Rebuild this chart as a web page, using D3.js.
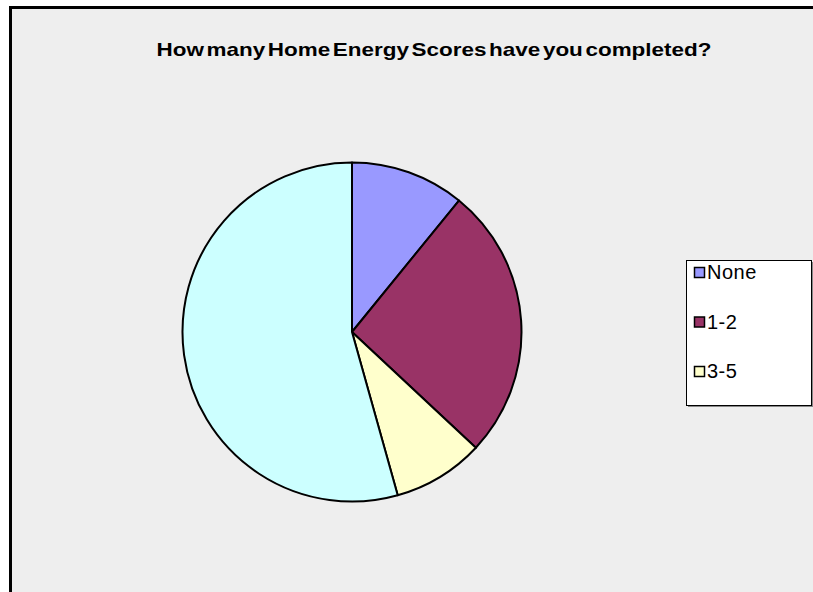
<!DOCTYPE html>
<html>
<head>
<meta charset="utf-8">
<script src="https://cdn.jsdelivr.net/npm/d3@7"></script>
<style>
  body { margin: 0; background: #fff; overflow: hidden; }
  svg { display: block; }
</style>
</head>
<body>
<svg width="813" height="592"></svg>
<script>
const svg = d3.select('svg');
const width = +svg.attr('width');
const height = +svg.attr('height');

// data (counts, total 46)
const categories = ['None', '1-2', '3-5', '6+'];
const counts = [5, 12, 4, 25];
const colours = ['#9999ff', '#993366', '#ffffcc', '#ccffff'];
const legendItems = ['None', '1-2', '3-5'];
const title = 'How many Home Energy Scores have you completed?';

// chart area, only top and left border are visible
svg.append('rect')
    .attr('x', 9).attr('y', 6)
    .attr('width', width).attr('height', height)
    .attr('fill', '#eeeeee');
svg.append('line')
    .attr('x1', 9).attr('x2', width)
    .attr('y1', 7.5).attr('y2', 7.5)
    .attr('stroke', '#000').attr('stroke-width', 3);
svg.append('line')
    .attr('x1', 10.5).attr('x2', 10.5)
    .attr('y1', 6).attr('y2', height)
    .attr('stroke', '#000').attr('stroke-width', 3);

svg.append('text')
    .attr('x', 434).attr('y', 56)
    .attr('text-anchor', 'middle')
    .attr('font-family', 'Liberation Sans, Arial, sans-serif')
    .attr('font-weight', 'bold')
    .attr('font-size', 18.5)
    .attr('word-spacing', -3)
    .attr('textLength', 555)
    .attr('lengthAdjust', 'spacingAndGlyphs')
    .text(title);

const cx = 352, cy = 332, radius = 169.5;

const pie = d3.pie().sort(null).value(d => d.v);
const arc = d3.arc().innerRadius(0).outerRadius(radius);
const rows = categories.map((c, i) => ({ c, v: counts[i], col: colours[i] }));

svg.append('g')
    .attr('transform', 'translate(' + cx + ',' + cy + ')')
  .selectAll('path')
  .data(pie(rows))
  .enter().append('path')
    .attr('d', arc)
    .attr('fill', d => d.data.col)
    .attr('stroke', '#000')
    .attr('stroke-width', 2)
    .attr('stroke-linejoin', 'round');

// legend (box runs to the right edge, last entry not shown)
const legend = svg.append('g').attr('transform', 'translate(686,260)');
legend.append('rect')
    .attr('x', 2).attr('y', 2)
    .attr('width', 125).attr('height', 145)
    .attr('fill', '#888');
legend.append('rect')
    .attr('x', 0.5).attr('y', 0.5)
    .attr('width', 125).attr('height', 145)
    .attr('fill', '#fff')
    .attr('stroke', '#000');

const ly = d3.scalePoint().domain(legendItems).range([12, 111]);
const item = legend.selectAll('g.item')
  .data(legendItems)
  .enter().append('g')
    .attr('class', 'item')
    .attr('transform', d => 'translate(0,' + ly(d) + ')');
item.append('rect')
    .attr('x', 8.5).attr('y', -4.5)
    .attr('width', 10).attr('height', 10)
    .attr('fill', (d, i) => colours[i])
    .attr('stroke', '#000')
    .attr('stroke-width', 1.5);
item.append('text')
    .attr('x', 21).attr('y', 7)
    .attr('font-family', 'Liberation Sans, Arial, sans-serif')
    .attr('font-size', 20)
    .attr('letter-spacing', 0.5)
    .text(d => d);
</script>
</body>
</html>
